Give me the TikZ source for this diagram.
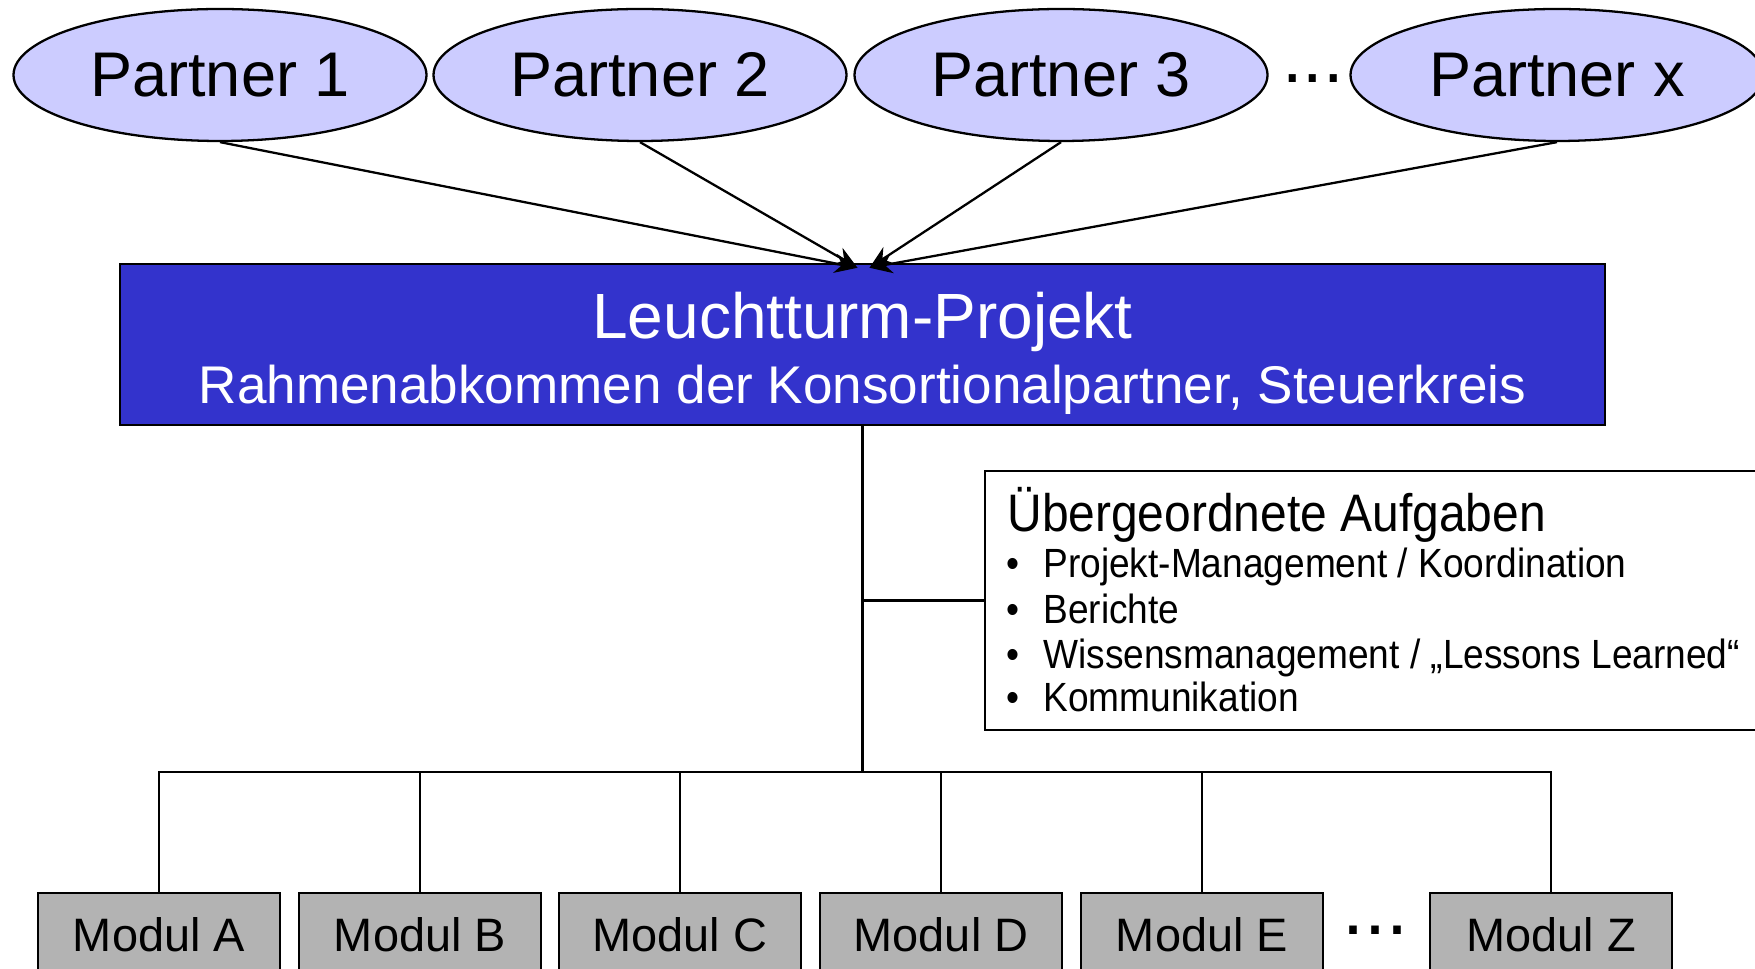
\documentclass[tikz,border=0pt]{standalone}
\usepackage{fontspec}
\setmainfont{Liberation Sans}
\usetikzlibrary{shapes.geometric,arrows.meta}
\definecolor{partnerblau}{HTML}{CCCCFF}
\definecolor{projektblau}{HTML}{3333CC}
\definecolor{modulgrau}{HTML}{B3B3B3}
\begin{document}
\begin{tikzpicture}[>={Stealth[length=13pt,width=11pt]},
		partner/.style={ellipse,draw,line width=1.3pt,fill=partnerblau,minimum width=8.26cm,minimum height=2.64cm,inner sep=0pt,font=\fontsize{35.9}{40}\selectfont},
		modul/.style={rectangle,draw,line width=1.4pt,fill=modulgrau,minimum width=4.84cm,minimum height=1.68cm,inner sep=0pt,font=\fontsize{26.7}{30}\selectfont},
		punkt/.style={anchor=west,inner sep=0pt,font=\fontsize{21.1}{24}\selectfont},
		linie/.style={line width=1.3pt}]
			\useasboundingbox (0,0) rectangle (35.1,19.36);
			\clip (0,0) rectangle (35.1,19.36);
			\def\ry{17.86}
			% Partner
			\node[partner] (p1) at (4.4,\ry) {Partner 1};
			\node[partner] (p2) at (12.8,\ry) {Partner 2};
			\node[partner] (p3) at (21.22,\ry) {Partner 3};
			\node[partner] (px) at (31.14,\ry) {Partner x};
			\node[inner sep=0pt,font=\fontsize{42}{42}\selectfont] (pdots) at (26.26,17.78) {...};
			% Projekt
			\node[draw,line width=1.4pt,fill=projektblau,minimum width=29.7cm,minimum height=3.22cm] (lt) at (17.25,12.47) {};
			\node[anchor=base,text=white,font=\fontsize{36.4}{40}\selectfont] (lttitel) at (17.25,12.58) {Leuchtturm-Projekt};
			\node[anchor=base,text=white,font=\fontsize{30.2}{34}\selectfont] (ltsub) at (17.25,11.28) {Rahmenabkommen der Konsortionalpartner, Steuerkreis};
			\draw[->,linie] (p1.south) -- ([xshift=-0.1cm,yshift=-0.1cm]lt.north);
			\draw[->,linie] (p2.south) -- ([xshift=-0.1cm,yshift=-0.1cm]lt.north);
			\draw[->,linie] (p3.south) -- ([xshift=0.14cm,yshift=-0.1cm]lt.north);
			\draw[->,linie] (px.south) -- ([xshift=0.14cm,yshift=-0.1cm]lt.north);
			% Aufgaben
			\node[draw,line width=1.4pt,fill=white,minimum width=15.7cm,minimum height=5.18cm] (aufg) at (27.55,7.35) {};
			\node[anchor=base west,inner sep=0pt,font=\fontsize{27.3}{30}\selectfont] (aufgtitel) at (20.14,8.72) {\scalebox{1}[1.1]{Übergeordnete Aufgaben}};
			\node[punkt,anchor=base west] (a1) at (20.12,7.8) {\scalebox{1}[1.1]{\textbullet\hspace{0.48cm}Projekt-Management / Koordination}};
			\node[punkt,anchor=base west] (a2) at (20.12,6.9) {\scalebox{1}[1.1]{\textbullet\hspace{0.48cm}Berichte}};
			\node[punkt,anchor=base west] (a3) at (20.12,6.0) {\scalebox{1}[1.1]{\textbullet\hspace{0.48cm}Wissensmanagement / „Lessons Learned“}};
			\node[punkt,anchor=base west] (a4) at (20.12,5.14) {\scalebox{1}[1.1]{\textbullet\hspace{0.48cm}Kommunikation}};
			% Module
			\node[modul] (ma) at (3.18,0.66) {Modul A};
			\node[modul] (mb) at (8.4,0.66) {Modul B};
			\node[modul] (mc) at (13.6,0.66) {Modul C};
			\node[modul] (md) at (18.82,0.66) {Modul D};
			\node[modul] (me) at (24.04,0.66) {Modul E};
			\node[modul] (mz) at (31.02,0.66) {Modul Z};
			\node[inner sep=0pt,font=\fontsize{45}{45}\selectfont] (mdots) at (27.5,0.76) {...};
			\coordinate (knoten) at (17.25,3.92);
			\draw[linie] (lt.south) -- (knoten);
			\draw[linie] (aufg.west -| lt.south) -- (aufg.west);
			\draw[linie] (knoten) -| (ma.north);
			\draw[linie] (knoten) -| (mb.north);
			\draw[linie] (knoten) -| (mc.north);
			\draw[linie] (knoten) -| (md.north);
			\draw[linie] (knoten) -| (me.north);
			\draw[linie] (knoten) -| (mz.north);
		\end{tikzpicture}
\end{document}
